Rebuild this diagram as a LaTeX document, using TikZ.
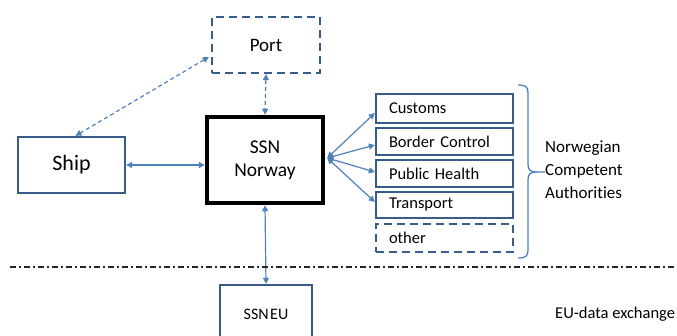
\documentclass[tikz,border=0pt]{standalone}
\usepackage{fontspec}
\setmainfont{Carlito}[Ligatures=NoCommon]
\usetikzlibrary{arrows.meta,calc}
\definecolor{boxblue}{HTML}{385D8A}
\definecolor{arrblue}{HTML}{4F81BD}
\begin{document}
\begin{tikzpicture}[x=1pt,y=-1pt,
  box/.style={draw=boxblue, line width=2.3pt, fill=white, inner sep=0pt},
  dbox/.style={box, dash pattern=on 8pt off 5pt},
  auth/.style={box, text width=111pt, inner xsep=13pt, align=left, font=\fontsize{16.5}{19}\selectfont},
  link/.style={draw=arrblue, line width=1.2pt, {Triangle[length=6pt,width=6pt]}-{Triangle[length=6pt,width=6pt]}},
  dlink/.style={link, dash pattern=on 4pt off 3pt}]
\useasboundingbox (0,0) rectangle (677,336);
\clip (0,0) rectangle (677,336);

\node[dbox, minimum width=108pt, minimum height=56pt, font=\fontsize{19}{23}\selectfont] (port) at (266,45) {Port};
\node[box, minimum width=107pt, minimum height=56pt, font=\fontsize{22}{26}\selectfont] (ship) at (71.5,165) {Ship};
\node[box, draw=black, line width=4.5pt, minimum width=116pt, minimum height=86pt, align=center, font=\fontsize{19.5}{23}\selectfont] (ssn) at (265,160) {SSN\\Norway};

\node[auth, minimum height=29pt] (customs) at (444.5,108.5) {Customs};
\node[auth, minimum height=27pt] (border) at (444.5,141.5) {Border Control};
\node[auth, minimum height=27pt] (health) at (444.5,173.5) {Public Health};
\node[auth, minimum height=26pt] (transport) at (444.5,205) {Transport};
\node[auth, dash pattern=on 8pt off 5pt, minimum height=28pt] (other) at (444.5,238) {other};

\node[box, minimum width=92pt, minimum height=58pt, font=\fontsize{16}{19}\selectfont] (ssneu) at (266,314) {SSN\hspace{1.5pt}EU};

\node[anchor=west, align=left, inner sep=0pt, font=\fontsize{17}{23}\selectfont] (nca) at (545,170) {Norwegian\\Competent\\Authorities};
\node[anchor=west, inner sep=0pt, font=\fontsize{16.5}{19}\selectfont] (eux) at (555,314) {EU-data exchange};

% connectors
\draw[dlink] ($(port.west)+(-2,12)$) -- ($(ship.north)+(4,0)$);
\draw[dlink] (port.south) -- (ssn.north);
\draw[link] (ship.east) -- (ship.east -| ssn.west);
\draw[link] (ssn.south) -- (ssneu.north);
\coordinate (fan) at ($(ssn.east)+(2,-2)$);
\draw[link] (fan) -- ($(customs.west)+(0,4.5)$);
\draw[link] (fan) -- ($(border.west)+(0,3.5)$);
\draw[link] (fan) -- ($(health.west)+(0,-1.5)$);
\draw[link] (fan) -- ($(transport.west)+(0,-3)$);

% brace
\draw[arrblue, line width=1.3pt] (518,85) .. controls (526,85) and (528,87) .. (528,93) -- (528,164)
  .. controls (528,170) and (530,172) .. (537,172) -- (nca.west |- 0,172);
\draw[arrblue, line width=1.3pt] (537,172) .. controls (530,172) and (528,174) .. (528,180) -- (528,250)
  .. controls (528,256) and (526,258) .. (518,258);

% separator
\draw[black!85, line width=1.8pt, dash pattern=on 6pt off 3pt on 2pt off 3pt] (10,267) -- (677,267);
\end{tikzpicture}
\end{document}
